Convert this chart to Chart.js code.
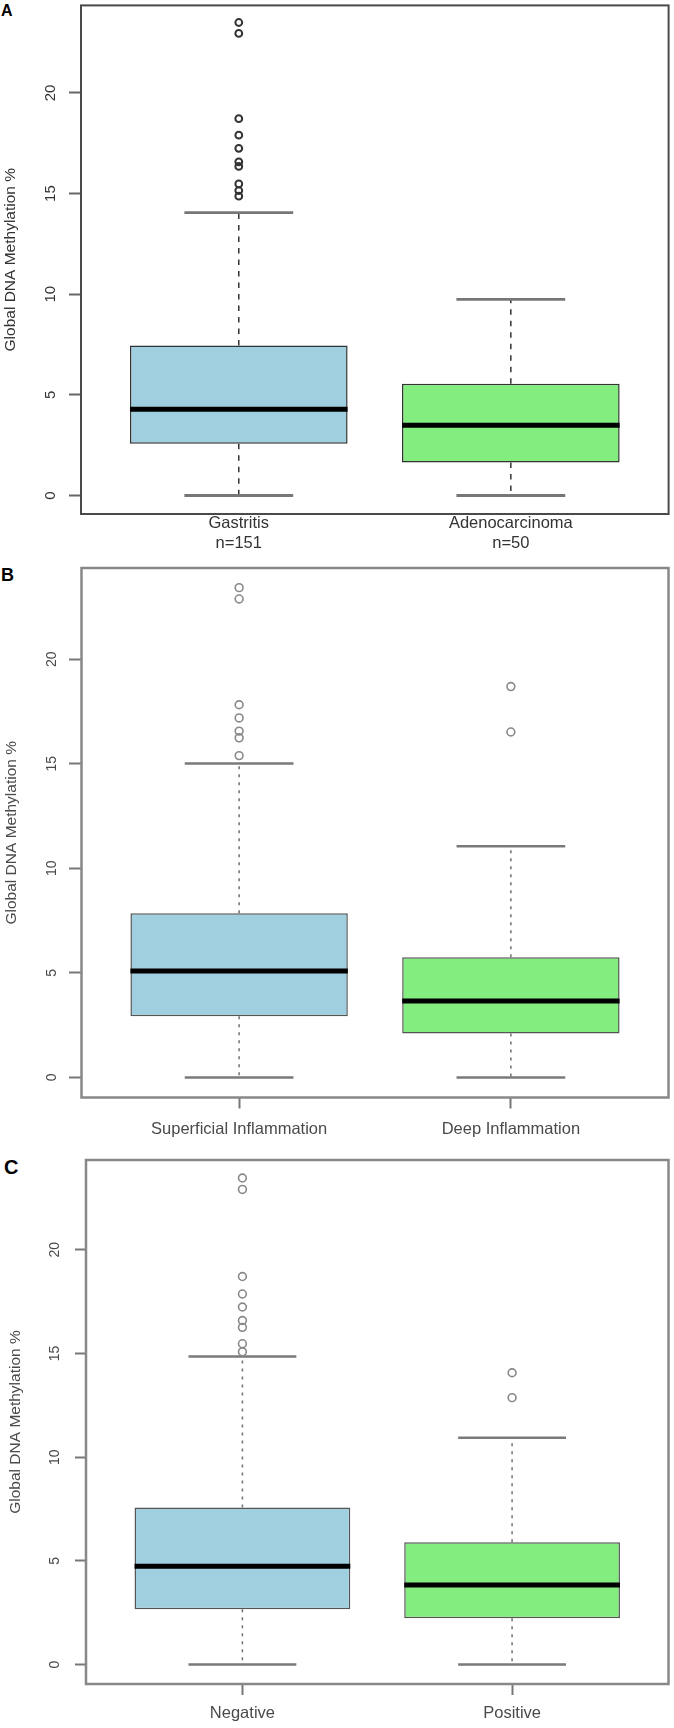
<!DOCTYPE html>
<html><head><meta charset="utf-8">
<script src="https://cdn.jsdelivr.net/npm/chart.js@4.4.1/dist/chart.umd.min.js"></script>
<style>
html,body{margin:0;padding:0;background:#fff;width:674px;height:1728px;overflow:hidden;position:relative;font-family:"Liberation Sans",Arial,sans-serif}
canvas{position:absolute;left:0}
.lab{position:absolute;font-weight:bold;color:#000;line-height:1}
</style></head><body>
<div class="lab" style="left:1px;top:3px;font-size:16px">A</div>
<div class="lab" style="left:1px;top:566px;font-size:18px">B</div>
<div class="lab" style="left:4px;top:1157px;font-size:20px">C</div>
<canvas id="cA" width="674" height="560" style="top:0px"></canvas>
<canvas id="cB" width="674" height="595" style="top:555px"></canvas>
<canvas id="cC" width="674" height="578" style="top:1150px"></canvas>
<script>
// ---------- data ----------
const yTicks = [0, 5, 10, 15, 20];
const yTitle = 'Global DNA Methylation %';

// Panel A
const catsA = [['Gastritis', 'n=151'], ['Adenocarcinoma', 'n=50']];
const loA  = [0, 0];
const q1A  = [2.57, 1.64];
const medA = [4.28, 3.49];
const q3A  = [7.45, 5.55];
const hiA  = [14.05, 9.74];
const outA1 = [23.50, 22.96, 18.72, 17.90, 17.25, 16.58, 16.35, 15.48, 15.15, 14.87];
const outA2 = [];

// Panel B
const catsB = ['Superficial Inflammation', 'Deep Inflammation'];
const loB  = [0, 0];
const q1B  = [2.93, 2.10];
const medB = [5.09, 3.65];
const q3B  = [7.85, 5.75];
const hiB  = [15.01, 11.06];
const outB1 = [23.42, 22.88, 17.82, 17.19, 16.56, 16.24, 15.39];
const outB2 = [18.69, 16.52];

// Panel C
const catsC = ['Negative', 'Positive'];
const loC  = [0, 0];
const q1C  = [2.66, 2.23];
const medC = [4.74, 3.83];
const q3C  = [7.57, 5.89];
const hiC  = [14.85, 10.94];
const outC1 = [23.46, 22.91, 18.71, 17.87, 17.24, 16.59, 16.26, 15.47, 15.08];
const outC2 = [14.07, 12.87];

// ---------- drawing ----------
const HALF_BOX = 0.4, HALF_CAP = 0.2;
const FILLS = ['#a0cfe0', '#83ed80'];
const FONT = '"Liberation Sans", Arial, sans-serif';

const framePlugin = {
  id: 'frame',
  afterDatasetsDraw(chart, args, opts) {
    const a = chart.chartArea, c = chart.ctx;
    c.save();
    c.strokeStyle = opts.color; c.lineWidth = opts.width;
    c.strokeRect(a.left, a.top, a.right - a.left, a.bottom - a.top);
    c.restore();
  }
};

function makePanel(id, d, s) {
  const xs = d.cats.map((_, i) => i + 1);
  const gap = x => ({x: x, y: null});
  const boxes = xs.map((x, i) => ({x: x, y: [d.q1[i], d.q3[i]]}));
  const medians = [], caps = [], whisk = [], outs = [];
  xs.forEach((x, i) => {
    medians.push({x: x - HALF_BOX, y: d.med[i]}, {x: x + HALF_BOX, y: d.med[i]}, gap(x));
    caps.push({x: x - HALF_CAP, y: d.hi[i]}, {x: x + HALF_CAP, y: d.hi[i]}, gap(x));
    caps.push({x: x - HALF_CAP, y: d.lo[i]}, {x: x + HALF_CAP, y: d.lo[i]}, gap(x));
    whisk.push({x: x, y: d.q3[i]}, {x: x, y: d.hi[i]}, gap(x));
    whisk.push({x: x, y: d.q1[i]}, {x: x, y: d.lo[i]}, gap(x));
    d.out[i].forEach(v => outs.push({x: x, y: v}));
  });
  const cTop = s.canvasTop, cH = s.canvasH;
  const lineDs = (data, color, width, dash, order) => ({
    type: 'line', data, borderColor: color, borderWidth: width, borderDash: dash || [],
    borderCapStyle: 'butt', pointRadius: 0, pointHoverRadius: 0, spanGaps: false,
    tension: 0, fill: false, order
  });
  new Chart(document.getElementById(id), {
    type: 'bar',
    data: {
      datasets: [
        {type: 'bar', data: boxes, backgroundColor: FILLS, borderColor: s.boxBorder,
         borderWidth: 1.5, borderSkipped: false, barPercentage: 0.8, categoryPercentage: 1, order: 3},
        lineDs(whisk, s.whiskColor, s.whiskWidth, s.whiskDash, 4),
        lineDs(caps, s.capColor, s.capWidth, null, 2),
        lineDs(medians, '#000', 5, null, 1),
        {type: 'scatter', data: outs, pointStyle: 'circle', pointRadius: s.outRadius,
         pointHoverRadius: s.outRadius, pointBorderWidth: s.outWidth, pointBorderColor: s.outColor,
         pointBackgroundColor: 'rgba(0,0,0,0)', showLine: false, order: 0}
      ]
    },
    options: {
      responsive: false, animation: false, events: [], devicePixelRatio: 1,
      layout: {padding: {left: 0, top: s.top - cTop, right: 674 - s.right, bottom: 0}},
      plugins: {legend: {display: false}, tooltip: {enabled: false},
                frame: {color: s.frameColor, width: s.frameWidth}},
      scales: {
        x: {
          type: 'linear', min: 0.42, max: 2.58, offset: false,
          afterBuildTicks: a => { a.ticks = xs.map(v => ({value: v})); },
          afterFit: a => { a.height = cTop + cH - s.bottom; a.paddingLeft = 0; a.paddingRight = 0; },
          ticks: {
            callback: v => d.cats[Math.round(v) - 1], autoSkip: false, maxRotation: 0,
            font: {family: FONT, size: s.labelFont},
            color: s.textColor, padding: s.xPad
          },
          grid: {display: true, offset: false, drawOnChartArea: false, drawTicks: s.xTickLen > 0,
                 tickLength: s.xTickLen, tickColor: s.tickColor, tickWidth: 2},
          border: {display: false}
        },
        y: {
          type: 'linear', min: s.yMin, max: s.yMax,
          afterBuildTicks: a => { a.ticks = yTicks.map(v => ({value: v})); },
          afterFit: a => { a.width = s.left; a.paddingTop = 0; a.paddingBottom = 0; },
          ticks: {
            minRotation: 90, maxRotation: 90, crossAlign: 'center', padding: s.tickPad,
            font: {family: FONT, size: s.tickFont},
            color: s.textColor
          },
          grid: {display: true, drawOnChartArea: false, tickLength: s.tickLen,
                 tickColor: s.tickColor, tickWidth: 2},
          border: {display: false},
          title: {display: true, text: yTitle, color: s.textColor,
                  font: {family: FONT, size: s.titleFont},
                  padding: {top: s.titlePad, bottom: 0}}
        }
      }
    },
    plugins: [framePlugin]
  });
}

makePanel('cA', {cats: catsA, lo: loA, q1: q1A, med: medA, q3: q3A, hi: hiA, out: [outA1, outA2]}, {
  canvasTop: 0, canvasH: 560, left: 81, top: 2, right: 670.7, bottom: 514,
  yMin: -0.92, yMax: 24.35,
  frameColor: '#4a4a4a', frameWidth: 2, boxBorder: '#333', whiskColor: '#333', whiskWidth: 1.5,
  whiskDash: [5.5, 6], capColor: '#777', capWidth: 2.8, outColor: '#333', outWidth: 2, outRadius: 3.4,
  tickFont: 15, tickPad: 10, tickLen: 12, tickColor: '#666', xTickLen: 0, xPad: 0,
  textColor: '#333', titleFont: 15.5, titlePad: 1, labelFont: 16.5
});
makePanel('cB', {cats: catsB, lo: loB, q1: q1B, med: medB, q3: q3B, hi: hiB, out: [outB1, outB2]}, {
  canvasTop: 555, canvasH: 595, left: 81.5, top: 568, right: 670, bottom: 1097.5,
  yMin: -0.96, yMax: 24.36,
  frameColor: '#888', frameWidth: 2.5, boxBorder: '#555', whiskColor: '#777', whiskWidth: 1.6,
  whiskDash: [3, 5], capColor: '#7a7a7a', capWidth: 2.5, outColor: '#888', outWidth: 1.6, outRadius: 3.9,
  tickFont: 14, tickPad: 9.5, tickLen: 12.5, tickColor: '#777', xTickLen: 11, xPad: 11,
  textColor: '#4a4a4a', titleFont: 15.5, titlePad: 2.5, labelFont: 16.5
});
makePanel('cC', {cats: catsC, lo: loC, q1: q1C, med: medC, q3: q3C, hi: hiC, out: [outC1, outC2]}, {
  canvasTop: 1150, canvasH: 578, left: 86, top: 1160, right: 670.5, bottom: 1684,
  yMin: -0.94, yMax: 24.33,
  frameColor: '#888', frameWidth: 2.5, boxBorder: '#555', whiskColor: '#777', whiskWidth: 1.6,
  whiskDash: [3, 5], capColor: '#7a7a7a', capWidth: 2.5, outColor: '#888', outWidth: 1.6, outRadius: 3.9,
  tickFont: 14, tickPad: 12, tickLen: 11, tickColor: '#777', xTickLen: 11, xPad: 9,
  textColor: '#4a4a4a', titleFont: 15.5, titlePad: 6, labelFont: 16.5
});
</script>
</body></html>
